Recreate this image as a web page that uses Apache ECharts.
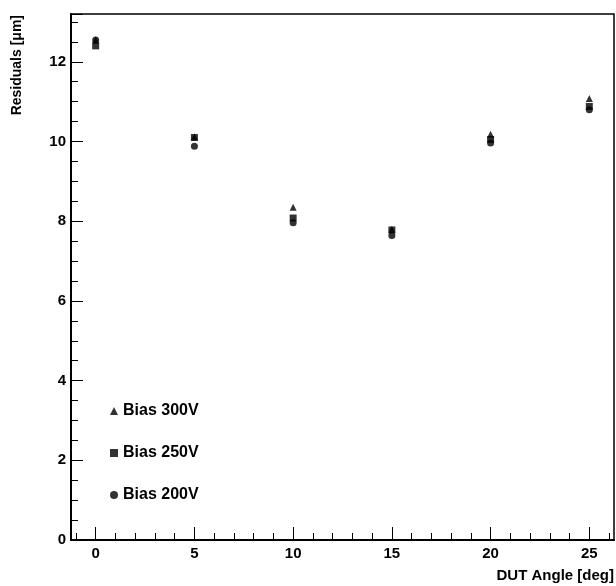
<!DOCTYPE html>
<html>
<head>
<meta charset="utf-8">
<script src="https://cdn.jsdelivr.net/npm/echarts@6/dist/echarts.min.js"></script>
<style>
  html, body { margin: 0; padding: 0; background: #fff; }
  #chart { width: 616px; height: 586px; }
</style>
</head>
<body>
<div id="chart"></div>
<script>
  var angles = [0, 5, 10, 15, 20, 25];
  var bias300 = [12.55, 10.12, 8.35, 7.80, 10.18, 11.08];
  var bias250 = [12.40, 10.10, 8.08, 7.78, 10.05, 10.88];
  var bias200 = [12.55, 9.88, 7.96, 7.64, 9.96, 10.80];
  var majorTicks = [0, 5, 10, 15, 20, 25];
  var minorTicks = [-1, 1, 2, 3, 4, 6, 7, 8, 9, 11, 12, 13, 14, 16, 17, 18, 19, 21, 22, 23, 24, 26];

  var font = 'Liberation Sans';

  function pairs(vals) {
    return angles.map(function (a, i) { return [a, vals[i]]; });
  }

  var chart = echarts.init(document.getElementById('chart'));
  var option = {
    animation: false,
    backgroundColor: '#fff',
    grid: {
      left: 71, right: 2, top: 14, bottom: 46,
      show: true, borderColor: '#000', borderWidth: 1.5
    },
    legend: {
      orient: 'vertical',
      left: 110, top: 403,
      padding: 0,
      itemGap: 26,
      itemWidth: 8, itemHeight: 8,
      textStyle: { fontFamily: font, fontWeight: 'bold', fontSize: 16, color: '#000' },
      data: ['Bias 300V', 'Bias 250V', 'Bias 200V']
    },
    xAxis: [{
      type: 'value', min: -1.25, max: 26.25,
      splitLine: { show: false },
      axisLine: { show: true, onZero: false, lineStyle: { color: '#000', width: 2 } },
      axisTick: { inside: true, length: 13, customValues: majorTicks, lineStyle: { color: '#000' } },
      axisLabel: { customValues: majorTicks, margin: 6, fontFamily: font, fontWeight: 'bold', fontSize: 15, color: '#000' }
    }, {
      type: 'value', min: -1.25, max: 26.25, position: 'bottom',
      splitLine: { show: false },
      axisLine: { show: false, onZero: false },
      axisTick: { inside: true, length: 7, customValues: minorTicks, lineStyle: { color: '#000' } },
      axisLabel: { show: false }
    }],
    yAxis: {
      type: 'value', min: 0, max: 13.2, interval: 2,
      splitLine: { show: false },
      axisLine: { show: true, onZero: false, lineStyle: { color: '#000', width: 2 } },
      axisTick: { inside: true, length: 12, lineStyle: { color: '#000' } },
      minorTick: { show: true, splitNumber: 4, length: 7, lineStyle: { color: '#000' } },
      axisLabel: { showMaxLabel: false, margin: 5, fontFamily: font, fontWeight: 'bold', fontSize: 15, color: '#000' }
    },
    graphic: [{
      type: 'text', left: 10, top: 15, rotation: Math.PI / 2,
      style: { text: 'Residuals [\u03bcm]', fontFamily: font, fontWeight: 'bold', fontSize: 14, fill: '#000' }
    }, {
      type: 'text', right: 2, top: 568,
      style: { text: 'DUT Angle [deg]', fontFamily: font, fontWeight: 'bold', fontSize: 15, fill: '#000' }
    }],
    series: [{
      name: 'Bias 300V', type: 'scatter', symbol: 'triangle', symbolSize: 7,
      xAxisIndex: 0, itemStyle: { color: '#000' }, data: pairs(bias300)
    }, {
      name: 'Bias 250V', type: 'scatter', symbol: 'rect', symbolSize: 7,
      xAxisIndex: 0, itemStyle: { color: '#000' }, data: pairs(bias250)
    }, {
      name: 'Bias 200V', type: 'scatter', symbol: 'circle', symbolSize: 7,
      xAxisIndex: 0, itemStyle: { color: '#000' }, data: pairs(bias200)
    }]
  };
  chart.setOption(option);
</script>
</body>
</html>
